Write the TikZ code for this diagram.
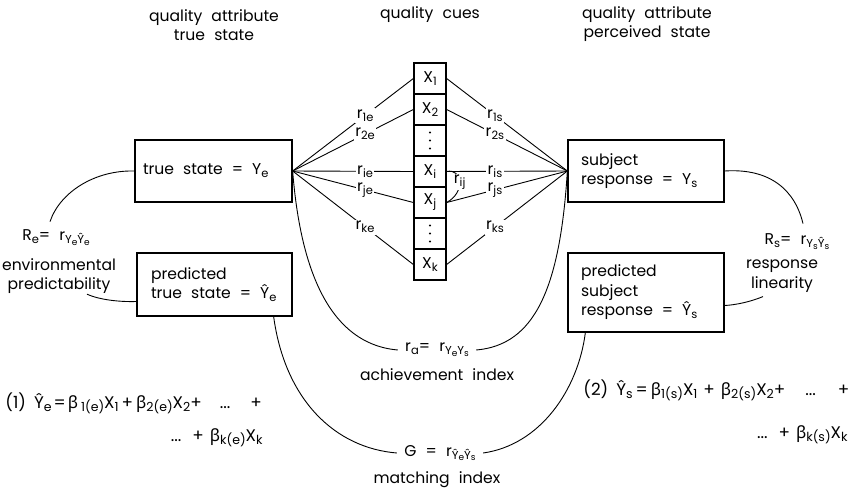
\documentclass[tikz,border=0pt]{standalone}
\usepackage{fontspec}
\setmainfont{Poppins}[WordSpace=2.2]
\newfontfamily\grk{Noto Sans}
\usetikzlibrary{calc}
\newcommand{\sub}[1]{\raisebox{-0.35ex}{\fontsize{11.5}{11.5}\selectfont #1}}
\newcommand{\ssub}[1]{\raisebox{-0.3ex}{\fontsize{9}{9}\selectfont #1}}
\newcommand{\esub}[1]{\raisebox{-0.35ex}{\fontsize{12.5}{12.5}\selectfont #1}}
\newcommand{\bt}{{\grk β}}
\newcommand{\gap}{\hspace{9pt}}
\begin{document}
\begin{tikzpicture}[x=1pt,y=-1pt,
  font=\fontsize{15.6}{19.5}\selectfont,
  line width=0.9pt,
  box/.style={draw,line width=1.3pt,align=left,inner xsep=7pt,inner ysep=0pt},
  cell/.style={draw,line width=1.3pt,minimum width=32pt,minimum height=31pt,inner sep=0pt},
  lbl/.style={fill=white,inner sep=1.5pt},
  txt/.style={inner sep=0pt,align=center},
  idx/.style={inner ysep=0pt,inner xsep=7pt},
  eqn/.style={inner sep=0pt,font=\fontsize{16.8}{19.5}\selectfont}]
\useasboundingbox (0,0) rectangle (851,498);

% titles
\node[txt] (t1) at (214,25) {quality attribute\\true state};
\node[txt] (t2) at (430,15) {quality cues};
\node[txt] (t3) at (647,24) {quality attribute\\perceived state};

% boxes
\node[box,text width=143pt,minimum height=62pt] (te) at (213.5,171) {\hspace*{1pt}true\gap state\gap =\gap Y\sub{e}};
\node[box,text width=141pt,minimum height=63pt] (pe) at (214.5,284.5) {\hspace*{7pt}predicted\\\hspace*{7pt}true\gap state\gap =\gap Ŷ\sub{e}};
\node[box,text width=142pt,minimum height=62pt] (sr) at (646,171) {\hspace*{6pt}subject\\\hspace*{6pt}response\gap =\gap Y\sub{s}};
\node[box,text width=142pt,minimum height=79pt] (ps) at (646,292.5) {\hspace*{6pt}predicted\\\hspace*{6pt}subject\\\hspace*{6pt}response\gap =\gap Ŷ\sub{s}};

% cue column
\node[cell] (c1) at (430,78.5) {X\sub{1}};
\node[cell] (c2) at (430,109.5) {X\sub{2}};
\node[cell] (d1) at (430,140.5) {};
\node[cell] (ci) at (430,171.5) {X\sub{i}};
\node[cell] (cj) at (430,202.5) {X\sub{j}};
\node[cell] (d2) at (430,233.5) {};
\node[cell] (ck) at (430,264.5) {X\sub{k}};
\foreach \d in {d1,d2}{
  \fill ($(\d.center)+(0,-8)$) circle (1.1pt);
  \fill (\d.center) circle (1.1pt);
  \fill ($(\d.center)+(0,8)$) circle (1.1pt);
}

% left lens lines
\draw (te.east) -- node[lbl,pos=0.6]{r\sub{1e}} (c1.west);
\draw (te.east) -- node[lbl,pos=0.6]{r\sub{2e}} (c2.west);
\draw (te.east) -- node[lbl,pos=0.6]{r\sub{ie}} (ci.west);
\draw (te.east) -- node[lbl,pos=0.6]{r\sub{je}} (cj.west);
\draw (te.east) -- node[lbl,pos=0.6]{r\sub{ke}} (ck.west);
% right lens lines
\draw (sr.west) -- node[lbl,pos=0.6]{r\sub{1s}} (c1.east);
\draw (sr.west) -- node[lbl,pos=0.6]{r\sub{2s}} (c2.east);
\draw (sr.west) -- node[lbl,pos=0.6]{r\sub{is}} (ci.east);
\draw (sr.west) -- node[lbl,pos=0.6]{r\sub{js}} (cj.east);
\draw (sr.west) -- node[lbl,pos=0.6]{r\sub{ks}} (ck.east);

% r_ij
\draw (ci.east) .. controls (462,168) and (466,192) .. node[lbl,pos=0.5,inner sep=0.5pt]{r\sub{ij}} (cj.east);

% index labels
\node[idx] (ra) at (437,350) {r\sub{a}= r\sub{Y\ssub{e}Y\ssub{s}}};
\node[txt] (ai) at (437,375) {achievement index};
\node[idx] (G) at (440,453) {G = r\sub{Ŷ\ssub{e}Ŷ\ssub{s}}};
\node[txt] (mi) at (437,480) {matching index};
\node[txt] (Re) at (56,238) {R\sub{e}= r\sub{Y\ssub{e}Ŷ\ssub{e}}};
\node[txt] (ep) at (59,276) {environmental\\predictability};
\node[txt] (Rs) at (797,242) {R\sub{s}= r\sub{Y\ssub{s}Ŷ\ssub{s}}};
\node[txt] (rl) at (782,276) {response\\linearity};

% achievement curve
\draw (te.east) .. controls (302,290) and (340,345) .. (ra.west);
\draw (ra.east) .. controls (534,345) and (560,290) .. (sr.west);

% matching curve
\coordinate (pm) at ($(pe.south east)+(-19,0)$);
\coordinate (sm) at ($(ps.south west)+(18,0)$);
\draw (pm) .. controls (285,400) and (335,448) .. (G.west);
\draw (G.east) .. controls (540,445) and (578,390) .. (sm);

% R_e curves
\coordinate (reT) at ($(Re.north)+(-6,-8)$);
\draw (te.west) .. controls (95,170) and (60,192) .. (reT);
\coordinate (reB) at ($(ep.south)+(28,0)$);
\coordinate (peL) at ($(pe.west)+(0,17)$);
\draw (reB) .. controls (100,300) and (120,302) .. (peL);

% R_s curves
\coordinate (rsT) at ($(Rs.north)+(6,-10)$);
\draw (sr.east) .. controls (770,168) and (795,190) .. (rsT);
\coordinate (rsB) at ($(rl.south)+(-19,4)$);
\coordinate (psR) at ($(ps.east)+(0,13)$);
\draw (rsB) .. controls (750,302) and (735,305) .. (psR);

% equations
\node[eqn,anchor=west] (eq1) at (5,403) {(1)\hspace{8pt}Ŷ\esub{e}\hspace{2pt}=\hspace{2pt}\bt\hspace{3pt}\esub{1(e)}X\esub{1}\hspace{3pt}+\hspace{3pt}\bt\esub{2(e)}X\esub{2}+\hspace{18pt}...\hspace{20pt}+};
\node[eqn,anchor=east] (eq1b) at (263,438) {...\hspace{11pt}+\hspace{6pt}\bt\esub{k(e)}X\esub{k}};
\node[eqn,anchor=west] (eq2) at (583,390) {(2)\hspace{8pt}Ŷ\esub{s}\hspace{3pt}=\hspace{3pt}\bt\esub{1(s)}X\esub{1}\hspace{6pt}+\hspace{6pt}\bt\esub{2(s)}X\esub{2}+\hspace{20pt}...\hspace{22pt}+};
\node[eqn,anchor=east] (eq2b) at (848,435) {...\hspace{11pt}+\hspace{6pt}\bt\esub{k(s)}X\esub{k}};
\end{tikzpicture}
\end{document}
